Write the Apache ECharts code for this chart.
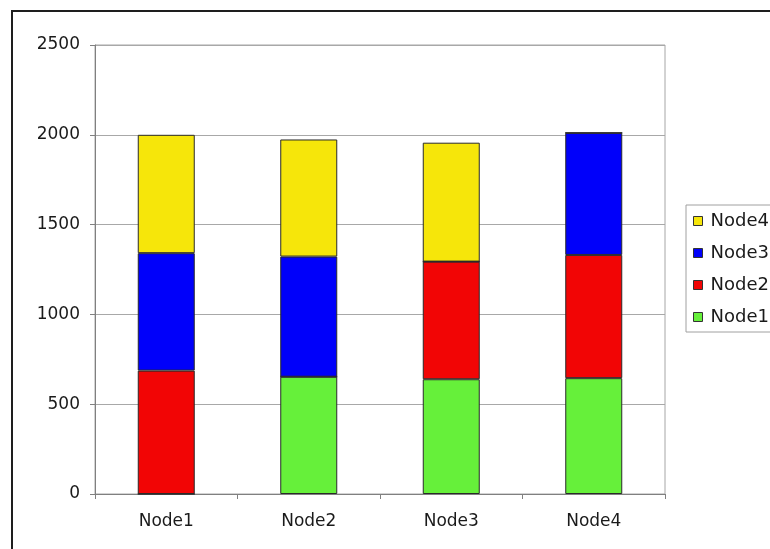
<!DOCTYPE html>
<html>
<head>
<meta charset="utf-8">
<script src="https://cdn.jsdelivr.net/npm/echarts@6/dist/echarts.min.js"></script>
<style>
  html, body { margin: 0; padding: 0; background: #fff; }
  #chart { width: 770px; height: 549px; }
</style>
</head>
<body>
<div id="chart"></div>
<script>
// Categories along the x axis
const categories = ['Node1', 'Node2', 'Node3', 'Node4'];

// Stacked series values, one entry per category
const node1Values = [0, 653, 639, 645];
const node2Values = [687, 0, 655, 686];
const node3Values = [654, 669, 0, 680];
const node4Values = [659, 652, 662, 0];

// Value axis tick settings
const yMin = 0;
const yMax = 2500;
const yStep = 500;

const seriesNames = ['Node1', 'Node2', 'Node3', 'Node4'];
const seriesData = [node1Values, node2Values, node3Values, node4Values];
const seriesColors = ['#66f03a', '#f20505', '#0000fa', '#f6e60a'];

const textFont = { fontFamily: 'DejaVu Sans', fontSize: 17, color: '#1a1a1a' };

const chart = echarts.init(document.getElementById('chart'), null, { renderer: 'canvas' });

chart.setOption({
  animation: false,
  backgroundColor: '#ffffff',
  graphic: [
    {
      type: 'rect',
      shape: { x: 12, y: 11, width: 820, height: 600 },
      style: { fill: 'none', stroke: '#1e1e1e', lineWidth: 2 },
      z: 100
    }
  ],
  grid: {
    left: 95,
    right: 105,
    top: 45,
    bottom: 55,
    show: true,
    borderColor: '#a6a6a6',
    borderWidth: 1,
    backgroundColor: 'transparent'
  },
  legend: {
    orient: 'vertical',
    left: 686,
    top: 205,
    padding: [7, 10, 6, 7],
    itemGap: 14,
    itemWidth: 9,
    itemHeight: 9,
    borderColor: '#a0a0a0',
    borderWidth: 1,
    icon: 'rect',
    data: ['Node4', 'Node3', 'Node2', 'Node1'],
    textStyle: Object.assign({ lineHeight: 18, padding: [0, 0, 0, 3] }, textFont, { fontSize: 18 }),
    itemStyle: { borderColor: '#333333', borderWidth: 1 }
  },
  xAxis: {
    type: 'category',
    data: categories,
    axisLine: { lineStyle: { color: '#808080', width: 1 } },
    axisTick: { show: true, length: 5, lineStyle: { color: '#808080' } },
    axisLabel: Object.assign({ margin: 19 }, textFont),
    splitLine: { show: false }
  },
  yAxis: {
    type: 'value',
    min: yMin,
    max: yMax,
    interval: yStep,
    axisLine: { show: true, lineStyle: { color: '#808080', width: 1 } },
    axisTick: { show: true, length: 5, lineStyle: { color: '#808080' } },
    axisLabel: Object.assign({ margin: 15, formatter: v => String(v) }, textFont),
    splitLine: { show: true, lineStyle: { color: '#a8a8a8', width: 1 } }
  },
  series: seriesNames.map((name, i) => ({
    name: name,
    type: 'bar',
    stack: 'total',
    barWidth: '40%',
    data: seriesData[i],
    itemStyle: {
      color: seriesColors[i],
      borderColor: '#2a2a2a',
      borderWidth: 1
    }
  }))
});
</script>
</body>
</html>
